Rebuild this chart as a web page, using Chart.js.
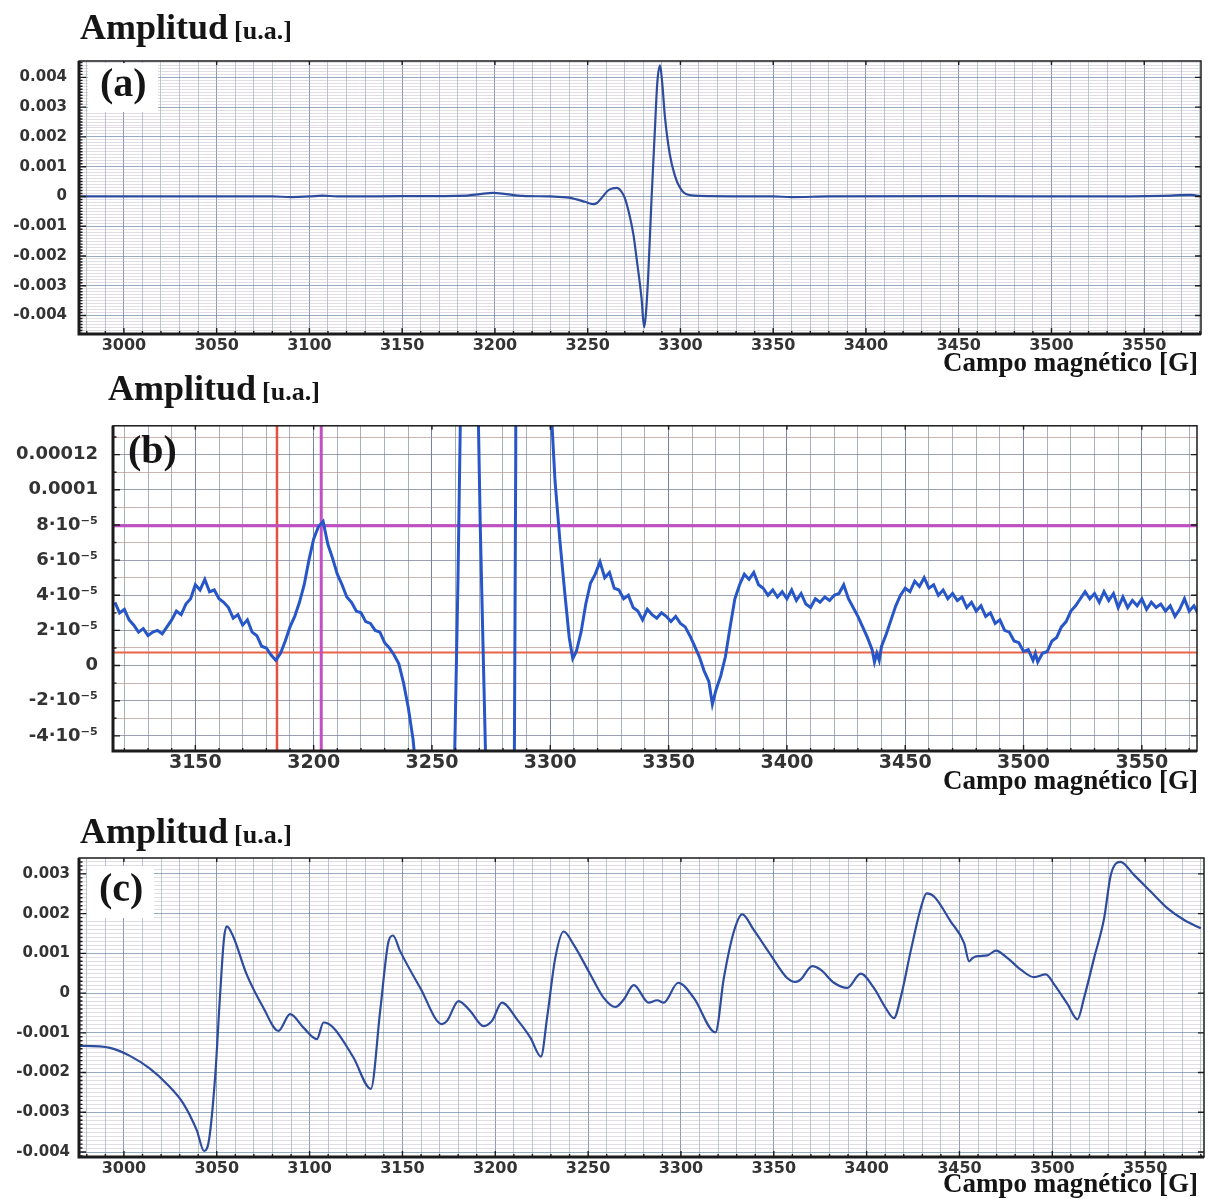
<!DOCTYPE html>
<html lang="es">
<head>
<meta charset="utf-8">
<title>Espectros RPE</title>
<script src="https://cdn.jsdelivr.net/npm/chart.js@4.4.1/dist/chart.umd.min.js"></script>
<style>
  html, body { margin: 0; padding: 0; background: #fff; }
  body { width: 1208px; height: 1199px; position: relative; overflow: hidden; }
  canvas { position: absolute; left: 0; }
  .serif { position: absolute; font-family: 'Liberation Serif', 'Times New Roman', serif; font-weight: bold; color: #151515; white-space: nowrap; line-height: 1; z-index: 2; }
  .amp .big { font-size: 36px; }
  .amp .unit { font-size: 26px; margin-left: 2px; }
  .campo { font-size: 27px; right: 10px; }
  .tag { font-size: 40px; line-height: 40px; padding: 0 11px 0 12px; }
  .tag.box { background: #fff; }
</style>
</head>
<body>

<div class="serif amp" style="left:80px; top:9px;"><span class="big">Amplitud</span> <span class="unit">[u.a.]</span></div>
<div class="serif tag box" style="left:88px; top:63px; padding-bottom:9px;">(a)</div>
<div class="serif campo" style="top:349px;">Campo magnético [G]</div>
<canvas id="chartA" width="1208" height="322" style="top:40px;"></canvas>

<div class="serif amp" style="left:108px; top:370px;"><span class="big">Amplitud</span> <span class="unit">[u.a.]</span></div>
<div class="serif tag" style="left:116px; top:430px;">(b)</div>
<div class="serif campo" style="top:767px;">Campo magnético [G]</div>
<canvas id="chartB" width="1208" height="380" style="top:400px;"></canvas>

<div class="serif amp" style="left:80px; top:813px;"><span class="big">Amplitud</span> <span class="unit">[u.a.]</span></div>
<div class="serif tag box" style="left:87px; top:866px; padding-top:2px; padding-bottom:10px;">(c)</div>
<div class="serif campo" style="top:1170px;">Campo magnético [G]</div>
<canvas id="chartC" width="1208" height="350" style="top:840px;"></canvas>

<script>
// (a) espectro completo, amplitud en unidades de 10^-3
const fieldA = [2976, 3000, 3040, 3080, 3090, 3100, 3107, 3115, 3150, 3185,
  3192, 3199, 3206, 3215, 3230, 3240, 3244, 3248.5, 3252.8, 3255,
  3257.5, 3261, 3263.5, 3265.8, 3268, 3270, 3272.8, 3274.7, 3276.4, 3279,
  3280.4, 3281.3, 3282.6, 3284.4, 3286.2, 3287.5, 3289, 3290.2, 3291.6, 3294.3,
  3297, 3299.7, 3303, 3310, 3350, 3360, 3380, 3450, 3520, 3560,
  3575, 3581];
const ampA = [0, 0, 0, 0, -0.02, 0, 0.03, 0, 0.01, 0.03,
  0.08, 0.12, 0.08, 0.02, 0, -0.04, -0.10, -0.18, -0.26, -0.22,
  -0.05, 0.20, 0.27, 0.29, 0.18, -0.05, -0.70, -1.30, -2.10, -3.40,
  -4.39, -4.00, -2.70, -0.10, 2.20, 3.80, 4.40, 3.80, 2.70, 1.40,
  0.70, 0.30, 0.08, 0.02, 0, -0.02, 0, 0.01, 0, 0.02,
  0.05, 0];

// (b) ampliacion, amplitud en unidades de 10^-5
const fieldB = [3116, 3118, 3120, 3122, 3124, 3126, 3128, 3130, 3132, 3134,
  3136, 3138, 3140, 3142, 3144, 3146, 3148, 3150, 3152, 3154,
  3156, 3158, 3160, 3162, 3164, 3166, 3168, 3170, 3172, 3174,
  3176, 3178, 3180, 3182, 3184, 3186, 3188, 3190, 3192, 3194,
  3196, 3198, 3200, 3202, 3204, 3206, 3208, 3210, 3212, 3214,
  3216, 3218, 3220, 3222, 3224, 3226, 3228, 3230, 3232, 3234,
  3236, 3238, 3240, 3242,
  3244, 3247, 3250, 3253, 3256, 3258, 3259.6, 3261, 3262, 3264,
  3266, 3268, 3269.6, 3270.4, 3271.6, 3272.8, 3274, 3277, 3280, 3282.5,
  3284.8, 3285.4, 3287, 3289, 3292, 3296, 3299, 3300.6,
  3302, 3304, 3306, 3308, 3309.5, 3311, 3313, 3315, 3317, 3319,
  3321, 3323, 3325, 3327, 3329, 3331, 3333, 3335, 3337, 3339,
  3341, 3343, 3345, 3347, 3349, 3351, 3353, 3355, 3357, 3359,
  3361, 3363, 3365, 3367, 3368.5, 3370, 3372, 3374, 3376, 3378,
  3380, 3382, 3384, 3386, 3388, 3390, 3392, 3394, 3396, 3398,
  3400, 3402, 3404, 3406, 3408, 3410, 3412, 3414, 3416, 3418,
  3420, 3422, 3424, 3426, 3428, 3430, 3432, 3434, 3436, 3437,
  3438, 3439, 3440, 3442, 3444, 3446, 3448, 3450, 3452, 3454,
  3456, 3458, 3460, 3462, 3464, 3466, 3468, 3470, 3472, 3474,
  3476, 3478, 3480, 3482, 3484, 3486, 3488, 3490, 3492, 3494,
  3496, 3498, 3500, 3502, 3504, 3505, 3506, 3508, 3510, 3512,
  3514, 3516, 3518, 3520, 3522, 3524, 3526, 3528, 3530, 3532,
  3534, 3536, 3538, 3540, 3542, 3544, 3546, 3548, 3550, 3552,
  3554, 3556, 3558, 3560, 3562, 3564, 3566, 3568, 3570, 3572,
  3574, 3576];
const ampB = [3.6, 3.0, 3.2, 2.6, 2.3, 1.9, 2.1, 1.7, 1.9, 2.0,
  1.8, 2.2, 2.6, 3.1, 2.9, 3.5, 3.8, 4.6, 4.3, 4.9,
  4.2, 4.3, 3.8, 3.6, 3.3, 2.7, 2.9, 2.3, 2.6, 1.9,
  1.7, 1.1, 1.0, 0.6, 0.3, 0.7, 1.4, 2.2, 2.8, 3.6,
  4.6, 6.0, 7.2, 7.9, 8.2, 6.9, 6.1, 5.2, 4.6, 3.9,
  3.6, 3.1, 3.0, 2.5, 2.4, 2.0, 1.9, 1.3, 1.0, 0.6,
  0.1, -1.0, -2.4, -4.2,
  -7, -14, -21, -26, -14, -8, -5, 5, 14, 25,
  29, 22, 14, 8, 1, -6, -60, -250, -440, -270,
  -6, 12, 380, 440, 270, 90, 30, 14,
  10.5, 7.2, 4.3, 1.6, 0.4, 0.8, 1.9, 3.5, 4.7, 5.2,
  5.9, 5.0, 5.3, 4.4, 4.3, 3.8, 4.0, 3.3, 3.1, 2.6,
  3.2, 2.9, 2.7, 3.0, 2.8, 2.5, 2.8, 2.4, 2.2, 1.7,
  1.1, 0.5, -0.3, -0.9, -2.2, -1.4, -0.6, 0.5, 2.2, 3.8,
  4.6, 5.2, 4.9, 5.3, 4.6, 4.4, 4.0, 4.3, 3.9, 4.2,
  3.8, 4.3, 3.7, 4.1, 3.5, 3.3, 3.8, 3.6, 3.9, 3.7,
  4.0, 4.1, 4.6, 3.8, 3.3, 2.8, 2.2, 1.6, 0.9, 0.2,
  0.7, 0.3, 1.1, 1.8, 2.6, 3.4, 4.0, 4.4, 4.2, 4.8,
  4.5, 5.0, 4.4, 4.6, 4.0, 4.3, 3.8, 4.1, 3.7, 3.9,
  3.3, 3.6, 3.1, 3.4, 2.8, 3.0, 2.4, 2.6, 2.0, 1.9,
  1.4, 1.3, 0.8, 0.9, 0.3, 0.7, 0.2, 0.7, 0.8, 1.4,
  1.6, 2.2, 2.5, 3.1, 3.4, 3.8, 4.2, 3.8, 4.1, 3.6,
  4.2, 3.7, 4.1, 3.3, 3.9, 3.3, 3.7, 3.4, 3.8, 3.2,
  3.6, 3.3, 3.5, 3.1, 3.4, 2.8, 3.2, 3.8, 3.1, 3.4,
  2.9, 3.1];
// cursores de (b): campo [G] y amplitud [10^-5]
const cursorFieldsB = [3184.5, 3203.2];
const cursorAmpsB = [0.75, 7.95];

// (c) segunda muestra, amplitud en unidades de 10^-3
const fieldC = [2976, 2979, 2992.5, 3003.2, 3014, 3023, 3032, 3039.2, 3043.1, 3045.5,
  3049.1, 3051.8, 3053.9, 3055.4, 3058.9, 3066.1, 3075.1, 3083.2, 3089.5, 3096.7,
  3103.9, 3107.5, 3112.8, 3123.6, 3133, 3138, 3142.5, 3144.9, 3148.8, 3159.6,
  3171.3, 3174, 3180.2, 3186.5, 3193.7, 3198.2, 3203.6, 3211.7, 3218.9, 3224.6,
  3227.9, 3232.3, 3236.8, 3242.2, 3251.2, 3258.4, 3264.7, 3269.2, 3274.6, 3282.6,
  3287.2, 3290.7, 3298.5, 3306.9, 3318.6, 3323.1, 3328.5, 3333, 3339.2, 3348.2,
  3357.2, 3361.7, 3364.4, 3370.7, 3375.2, 3382.4, 3389.6, 3396.8, 3403.9, 3410.2,
  3414.7, 3418.3, 3423.7, 3429.1, 3432.3, 3436.3, 3445.3, 3452.5, 3455.2, 3457,
  3459.7, 3465.1, 3469.6, 3475.9, 3483, 3490.2, 3496.5, 3501, 3508.2, 3513.6,
  3517.1, 3522.5, 3527.9, 3531.5, 3536.6, 3544.1, 3553.1, 3562.1, 3571, 3580];
const ampC = [-1.33, -1.33, -1.38, -1.58, -1.90, -2.28, -2.78, -3.45, -3.97, -3.78,
  -2.12, -0.03, 1.38, 1.68, 1.42, 0.47, -0.37, -0.95, -0.53, -0.87,
  -1.16, -0.74, -0.87, -1.62, -2.41, -0.45, 1.30, 1.45, 1.05, 0.13,
  -0.78, -0.70, -0.20, -0.45, -0.83, -0.70, -0.24, -0.66, -1.12, -1.60,
  -0.62, 0.88, 1.55, 1.22, 0.47, -0.12, -0.35, -0.16, 0.20, -0.24,
  -0.18, -0.24, 0.26, -0.12, -0.99, 0.38, 1.55, 1.98, 1.59, 0.97,
  0.38, 0.28, 0.34, 0.68, 0.59, 0.26, 0.13, 0.49, 0.13, -0.37,
  -0.63, -0.12, 1.05, 2.13, 2.51, 2.43, 1.80, 1.26, 0.80, 0.88,
  0.93, 0.95, 1.07, 0.88, 0.59, 0.40, 0.47, 0.22, -0.28, -0.66,
  -0.12, 0.88, 1.88, 2.97, 3.30, 2.97, 2.55, 2.13, 1.84, 1.63];

const MILLI = 1e-3;
const B_UNIT = 1e-5;

function toPoints(xs, ys, k) {
  return xs.map((x, i) => ({ x: x, y: ys[i] * k }));
}

function isMultiple(v, step) {
  const r = v / step;
  return Math.abs(r - Math.round(r)) < 1e-6;
}

function gridColor(majorStep, majorColor, minorColors) {
  return ctx => {
    const v = ctx.tick ? ctx.tick.value : 0;
    if (isMultiple(v, majorStep)) return majorColor;
    return minorColors[ctx.index % minorColors.length];
  };
}

// marco negro con marcas hacia dentro
const framePlugin = {
  id: 'frame',
  afterDraw(chart) {
    const o = chart.options.plugins.frame;
    const { ctx, chartArea: a, scales: { x, y } } = chart;
    ctx.save();
    ctx.strokeStyle = '#1b1b1b';
    ctx.lineWidth = 1.4;
    ctx.beginPath();
    x.ticks.forEach(t => {
      const px = x.getPixelForValue(t.value);
      const major = isMultiple(t.value, o.xMajor);
      const len = major ? 6 : 3;
      ctx.moveTo(px, a.bottom);
      ctx.lineTo(px, a.bottom - len);
      if (major) {
        ctx.moveTo(px, a.top);
        ctx.lineTo(px, a.top + 4);
      }
    });
    y.ticks.forEach(t => {
      const py = y.getPixelForValue(t.value);
      const major = isMultiple(t.value, o.yMajor);
      const len = major ? 7 : 3.5;
      ctx.moveTo(a.left, py);
      ctx.lineTo(a.left + len, py);
      if (major) {
        ctx.moveTo(a.right, py);
        ctx.lineTo(a.right - 6, py);
      }
    });
    ctx.stroke();

    ctx.lineWidth = 1.5;
    ctx.strokeRect(a.left, a.top, a.right - a.left, a.bottom - a.top);
    ctx.lineWidth = 3;
    ctx.beginPath();
    ctx.moveTo(a.left, a.top);
    ctx.lineTo(a.left, a.bottom);
    ctx.lineTo(a.right, a.bottom);
    ctx.stroke();
    ctx.restore();
  }
};

function makeChart(id, cfg) {
  const fontFamily = "'DejaVu Sans', Verdana, sans-serif";
  return new Chart(document.getElementById(id), {
    type: 'scatter',
    data: { datasets: cfg.datasets },
    options: {
      responsive: false,
      animation: false,
      events: [],
      layout: { padding: { top: cfg.padTop, right: cfg.padRight, left: 0, bottom: 0 } },
      plugins: {
        legend: { display: false },
        tooltip: { enabled: false },
        frame: { xMajor: 50, yMajor: cfg.yMajor }
      },
      scales: {
        x: {
          type: 'linear',
          min: cfg.xMin,
          max: cfg.xMax,
          afterFit: s => { s.height = cfg.xHeight; },
          border: { display: false },
          grid: {
            drawTicks: false,
            lineWidth: 1,
            color: gridColor(50, cfg.vMajor, cfg.vMinor)
          },
          ticks: {
            stepSize: 10,
            autoSkip: false,
            includeBounds: false,
            maxRotation: 0,
            padding: cfg.xPad,
            color: '#333',
            font: { family: fontFamily, weight: 'bold', size: cfg.xFont },
            callback: v => (isMultiple(v, 50) ? String(Math.round(v)) : '')
          }
        },
        y: {
          type: 'linear',
          min: cfg.yMin,
          max: cfg.yMax,
          afterFit: s => { s.width = cfg.yWidth; },
          border: { display: false },
          grid: {
            drawTicks: false,
            lineWidth: 1,
            color: gridColor(cfg.yMajor, cfg.hMajor, cfg.hMinor)
          },
          ticks: {
            stepSize: cfg.yStep,
            autoSkip: false,
            includeBounds: false,
            padding: cfg.yPad,
            color: '#333',
            font: { family: fontFamily, weight: 'bold', size: cfg.yFont },
            callback: cfg.yLabel
          }
        }
      }
    },
    plugins: [framePlugin]
  });
}

function milliLabel(v) {
  if (!isMultiple(v, 0.001)) return '';
  const n = Math.round(v / 0.001);
  if (n === 0) return '0';
  return (n < 0 ? '-' : '') + '0.00' + Math.abs(n);
}

function labelB(v) {
  const n = Math.round(v / B_UNIT);
  if (n % 2 !== 0) return '';
  if (n === 0) return '0';
  if (n === 12) return '0.00012';
  if (n === 10) return '0.0001';
  return (n < 0 ? '-' : '') + Math.abs(n) + '\u00b710\u207b\u2075';
}

const traceAC = {
  borderColor: '#2d4c9e',
  borderWidth: 2.2,
  pointRadius: 0,
  showLine: true,
  cubicInterpolationMode: 'monotone',
  clip: 0
};

const paperA = {
  vMajor: 'rgba(105,130,170,0.8)',
  vMinor: ['rgba(140,170,155,0.6)', 'rgba(140,155,190,0.6)'],
  hMajor: 'rgba(110,135,170,0.7)',
  hMinor: ['rgba(190,180,195,0.45)']
};

// (a)
makeChart('chartA', Object.assign({
  datasets: [Object.assign({ data: toPoints(fieldA, ampA, MILLI) }, traceAC)],
  xFont: 16, yFont: 15, xPad: 2, yPad: 12,
  padTop: 11, padRight: 7, xHeight: 28, yWidth: 79,
  xMin: 2975.8, xMax: 3580.6, yMin: -0.00462, yMax: 0.00455,
  yStep: 0.0001, yMajor: 0.001, yLabel: milliLabel
}, paperA));

// (b)
const yMinB = -4.86e-5;
const yMaxB = 13.64e-5;
makeChart('chartB', {
  datasets: [
    { data: toPoints(fieldB, ampB, B_UNIT), borderColor: '#2656c8', borderWidth: 3, pointRadius: 0, showLine: true, tension: 0, clip: 0 },
    { data: [{ x: cursorFieldsB[1], y: yMinB }, { x: cursorFieldsB[1], y: yMaxB }], borderColor: '#c24ec4', borderWidth: 3, pointRadius: 0, showLine: true, clip: 0 },
    { data: [{ x: 3115.2, y: cursorAmpsB[1] * B_UNIT }, { x: 3573.3, y: cursorAmpsB[1] * B_UNIT }], borderColor: '#c24ec4', borderWidth: 3, pointRadius: 0, showLine: true, clip: 0 },
    { data: [{ x: cursorFieldsB[0], y: yMinB }, { x: cursorFieldsB[0], y: yMaxB }], borderColor: '#e5503c', borderWidth: 2.5, pointRadius: 0, showLine: true, clip: 0 },
    { data: [{ x: 3115.2, y: cursorAmpsB[0] * B_UNIT }, { x: 3573.3, y: cursorAmpsB[0] * B_UNIT }], borderColor: '#e8644a', borderWidth: 2, pointRadius: 0, showLine: true, clip: 0 }
  ],
  xFont: 19, yFont: 18, xPad: 1, yPad: 15,
  padTop: 13, padRight: 11, xHeight: 29, yWidth: 113,
  xMin: 3115.2, xMax: 3573.3, yMin: yMinB, yMax: yMaxB,
  yStep: 1e-5, yMajor: 2e-5, yLabel: labelB,
  vMajor: 'rgba(90,110,150,0.85)', vMinor: ['rgba(120,140,130,0.65)', 'rgba(125,135,165,0.65)'],
  hMajor: 'rgba(115,120,145,0.7)', hMinor: ['rgba(175,145,135,0.65)']
});

// (c)
makeChart('chartC', Object.assign({
  datasets: [Object.assign({ data: toPoints(fieldC, ampC, MILLI) }, traceAC)],
  xFont: 16, yFont: 15, xPad: 2, yPad: 9,
  padTop: 16, padRight: 4, xHeight: 33, yWidth: 79,
  xMin: 2975.8, xMax: 3581.7, yMin: -0.004125, yMax: 0.0034,
  yStep: 0.0001, yMajor: 0.001, yLabel: milliLabel
}, paperA));
</script>
</body>
</html>
